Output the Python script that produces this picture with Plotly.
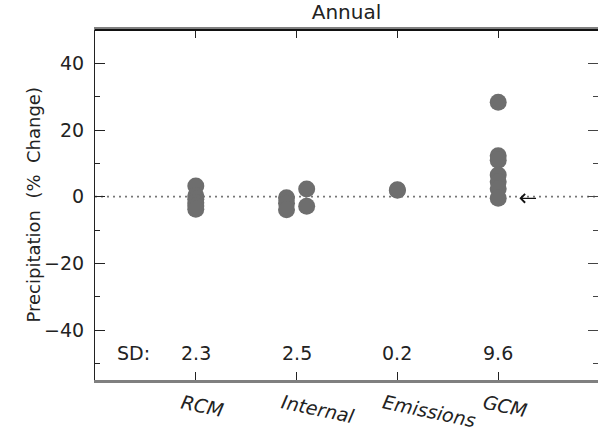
import plotly.graph_objects as go

# ---- data ----
categories = ["RCM", "Internal", "Emissions", "GCM"]
rcm = [3.2, 0.3, -0.8, -1.8, -2.8, -3.8]
internal_a = [-0.3, -2.0, -3.9]
internal_b = [2.3, -2.9]
emissions = [1.9, 2.1]
gcm = [28.3, 12.3, 10.9, 6.5, 4.5, 2.4, -0.5]
sd_labels = ["2.3", "2.5", "0.2", "9.6"]
sd_prefix = "SD:"
observed_change = -0.5   # value the arrow points at, beside GCM
y_ticks = [-40, -20, 0, 20, 40]

groups = [[rcm], [internal_a, internal_b], [emissions], [gcm]]

FONT = "DejaVu Sans"
DOT = "#6e6e6e"
fig = go.Figure()

for gi, cols in enumerate(groups):
    n = len(cols)
    for ci, vals in enumerate(cols):
        off = (ci - (n - 1) / 2) * 0.2
        fig.add_trace(go.Scatter(
            x=[gi + 1 + off] * len(vals), y=vals, mode="markers",
            marker=dict(size=17, color=DOT, line=dict(width=0)),
            showlegend=False, hoverinfo="y"))

# dummy trace for the mirrored right axis
fig.add_trace(go.Scatter(x=[None], y=[None], xaxis="x", yaxis="y2",
                         showlegend=False, hoverinfo="skip"))

# zero dotted line
fig.add_shape(type="line", xref="paper", x0=0, x1=1, yref="y", y0=0, y1=0,
              line=dict(color="#777777", width=1.6, dash="2px,4px"), layer="below")
# black top frame line
fig.add_shape(type="line", xref="paper", x0=0, x1=1, yref="paper", y0=1, y1=1,
              line=dict(color="#111111", width=2), layer="above")

# arrow
fig.add_annotation(x=4.21, y=observed_change, ax=4.39, ay=observed_change,
                   xref="x", yref="y", axref="x", ayref="y", text="",
                   showarrow=True, arrowhead=4, arrowsize=1.3, arrowwidth=1.3,
                   arrowcolor="#111111")

# SD row
fig.add_annotation(x=0.38, y=-46.8, xref="x", yref="y", text=sd_prefix,
                   showarrow=False, font=dict(family=FONT, size=19, color="#222"))
for i, s in enumerate(sd_labels):
    fig.add_annotation(x=i + 1, y=-46.8, xref="x", yref="y", text=s,
                       showarrow=False, font=dict(family=FONT, size=19, color="#222"))

# slanted category labels
for i, c in enumerate(categories):
    fig.add_annotation(x=i + 1, y=0, xref="x", yref="paper", text="<i>%s</i>" % c,
                       showarrow=False, xanchor="left", yanchor="top",
                       xshift=-19, yshift=-8, textangle=12,
                       font=dict(family=FONT, size=19, color="#222"))

# y title
fig.add_annotation(x=-0.149, y=0.5, xref="paper", yref="paper",
                   text="Precipitation\u00a0\u00a0(%\u00a0\u00a0Change)", textangle=-90,
                   showarrow=False, font=dict(family=FONT, size=18, color="#222"))

fig.update_layout(
    width=598, height=434,
    margin=dict(l=95, r=0, t=30, b=54),
    paper_bgcolor="white", plot_bgcolor="white",
    title=dict(text="Annual", x=0.5, xref="paper", y=1 - 12 / 434, yref="container",
               xanchor="center", yanchor="middle",
               font=dict(family=FONT, size=20, color="#222")),
    font=dict(family=FONT, size=19, color="#222"),
    xaxis=dict(range=[0, 4.99], tickvals=[1, 2, 3, 4], showticklabels=False,
               ticks="inside", ticklen=8, tickcolor="#222", tickwidth=1,
               showline=True, linecolor="#808080", linewidth=2.5, mirror="ticks",
               showgrid=False, zeroline=False),
    yaxis=dict(range=[-55, 50], tickvals=y_ticks, ticks="inside", ticklen=10,
               tickcolor="#222", tickwidth=1, ticklabelstandoff=6,
               minor=dict(ticks="inside", ticklen=5, dtick=10, tick0=0, tickcolor="#222"),
               showline=True, linecolor="#222", linewidth=1.2,
               showgrid=False, zeroline=False,
               tickfont=dict(family=FONT, size=19, color="#222")),
    yaxis2=dict(range=[-55, 50], overlaying="y", side="right", anchor="x",
                tickvals=y_ticks, ticks="inside", ticklen=10, tickcolor="#444",
                minor=dict(ticks="inside", ticklen=5, dtick=10, tick0=0, tickcolor="#444"),
                showticklabels=False, showline=False, showgrid=False, zeroline=False),
)

fig.write_html("out.html", config={"displayModeBar": False},
               post_script="document.body.style.margin='0';document.body.style.overflow='hidden';")
